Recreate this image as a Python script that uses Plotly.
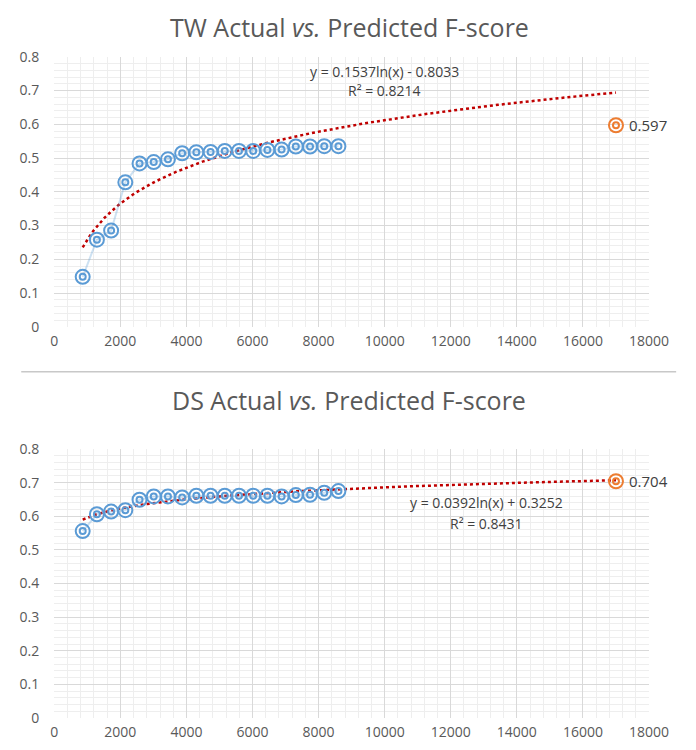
import numpy as np
import plotly.graph_objects as go

# training set sizes (shared by both panels)
sizes = [860, 1290, 1720, 2150, 2580, 3010, 3440, 3870, 4300, 4730,
         5160, 5590, 6020, 6450, 6880, 7310, 7740, 8170, 8600]

tw_actual = [0.148, 0.258, 0.285, 0.428, 0.484, 0.488, 0.496, 0.514, 0.517, 0.518,
             0.521, 0.521, 0.521, 0.524, 0.525, 0.534, 0.534, 0.535, 0.535]
ds_actual = [0.556, 0.606, 0.614, 0.618, 0.649, 0.659, 0.659, 0.656, 0.661, 0.661,
             0.661, 0.661, 0.661, 0.661, 0.659, 0.663, 0.664, 0.670, 0.675]

predicted_size = 17000
tw_predicted = 0.597
ds_predicted = 0.704

# log trendline coefficients shown on the chart: y = a*ln(x) + b
tw_fit = (0.1537, -0.8033, 0.8214)
ds_fit = (0.0392, 0.3252, 0.8431)

BLUE = "#5b9bd5"
ORANGE = "#ed7d31"
RED = "#c00000"
GREY = "#595959"
FONT = "Open Sans"


def _add_panel(fig, xref, yref, actual, predicted, fit, eq_pos, r2_pos):
    a, b, r2 = fit
    tx = np.linspace(sizes[0], predicted_size, 200)
    fig.add_trace(go.Scatter(
        x=tx, y=a * np.log(tx) + b, mode="lines",
        line=dict(color=RED, width=2.5, dash="dot"),
        xaxis=xref, yaxis=yref, showlegend=False,
    ))

    fig.add_trace(go.Scatter(
        x=sizes, y=actual, mode="lines",
        line=dict(color="rgba(91,155,213,0.3)", width=2),
        xaxis=xref, yaxis=yref, showlegend=False,
    ))
    for sz in (14, 6):
        fig.add_trace(go.Scatter(
            x=sizes, y=actual, mode="markers",
            marker=dict(symbol="circle-open", size=sz, color=BLUE, line=dict(width=2)),
            xaxis=xref, yaxis=yref, showlegend=False,
        ))
        fig.add_trace(go.Scatter(
            x=[predicted_size], y=[predicted], mode="markers",
            marker=dict(symbol="circle-open", size=sz, color=ORANGE, line=dict(width=2)),
            xaxis=xref, yaxis=yref, showlegend=False,
        ))

    fig.add_annotation(x=predicted_size, y=predicted, xref=xref, yref=yref,
                       text=f"{predicted:.3f}", showarrow=False, xanchor="left",
                       xshift=11, font=dict(family=FONT, size=15, color="#404040"))

    sign = "+" if b >= 0 else "-"
    fig.add_annotation(x=eq_pos[0], y=eq_pos[1], xref=xref, yref=yref,
                       text=f"y = {a:.4f}ln(x) {sign} {abs(b):.4f}", showarrow=False,
                       font=dict(family=FONT, size=14, color="#404040"))
    fig.add_annotation(x=r2_pos[0], y=r2_pos[1], xref=xref, yref=yref,
                       text=f"R² = {r2:.4f}", showarrow=False,
                       font=dict(family=FONT, size=14, color="#404040"))


def _axes(domain_y, anchor_x, anchor_y):
    xa = dict(
        domain=[0.0665, 0.921], range=[0, 18000], dtick=2000, tickformat="d",
        showgrid=True, gridcolor="#d9d9d9", gridwidth=1,
        minor=dict(dtick=400, showgrid=True, gridcolor="#eeeeee"),
        zeroline=False, showline=False, ticks="", automargin=False,
        ticklabelstandoff=4, anchor=anchor_x,
        tickfont=dict(family=FONT, size=14, color=GREY),
    )
    ya = dict(
        domain=domain_y, range=[0, 0.8], dtick=0.1, tickformat="~g",
        showgrid=True, gridcolor="#d9d9d9", gridwidth=1,
        minor=dict(dtick=0.02, showgrid=True, gridcolor="#eeeeee"),
        zeroline=False, showline=False, ticks="", automargin=False,
        ticklabelstandoff=14, anchor=anchor_y,
        tickfont=dict(family=FONT, size=14, color=GREY),
    )
    return xa, ya


fig = go.Figure()

_add_panel(fig, "x", "y", tw_actual, tw_predicted, tw_fit,
           (10000, 0.755), (10000, 0.70))
_add_panel(fig, "x2", "y2", ds_actual, ds_predicted, ds_fit,
           (13080, 0.642), (13080, 0.577))

x1, y1 = _axes([0.575, 0.935], "y", "x")
x2, y2 = _axes([0.0533, 0.412], "y2", "x2")

fig.update_layout(
    width=696, height=750,
    margin=dict(l=0, r=0, t=0, b=0),
    paper_bgcolor="white", plot_bgcolor="white",
    xaxis=x1, yaxis=y1, xaxis2=x2, yaxis2=y2,
    font=dict(family=FONT, color=GREY),
)

fig.add_annotation(x=0.49, y=1.0, xref="paper", yref="paper", yanchor="top",
                   text="TW Actual <i>vs.</i> Predicted F-score", showarrow=False,
                   font=dict(family=FONT, size=25, color=GREY))
fig.add_annotation(x=0.49, y=0.477, xref="paper", yref="paper", yanchor="middle",
                   text="DS Actual <i>vs.</i> Predicted F-score", showarrow=False,
                   font=dict(family=FONT, size=25, color=GREY))

fig.add_shape(type="line", xref="paper", yref="paper",
              x0=0.019, x1=0.96, y0=0.515, y1=0.515,
              line=dict(color="#c8c8c8", width=1.5))

fig.write_html("out.html")
